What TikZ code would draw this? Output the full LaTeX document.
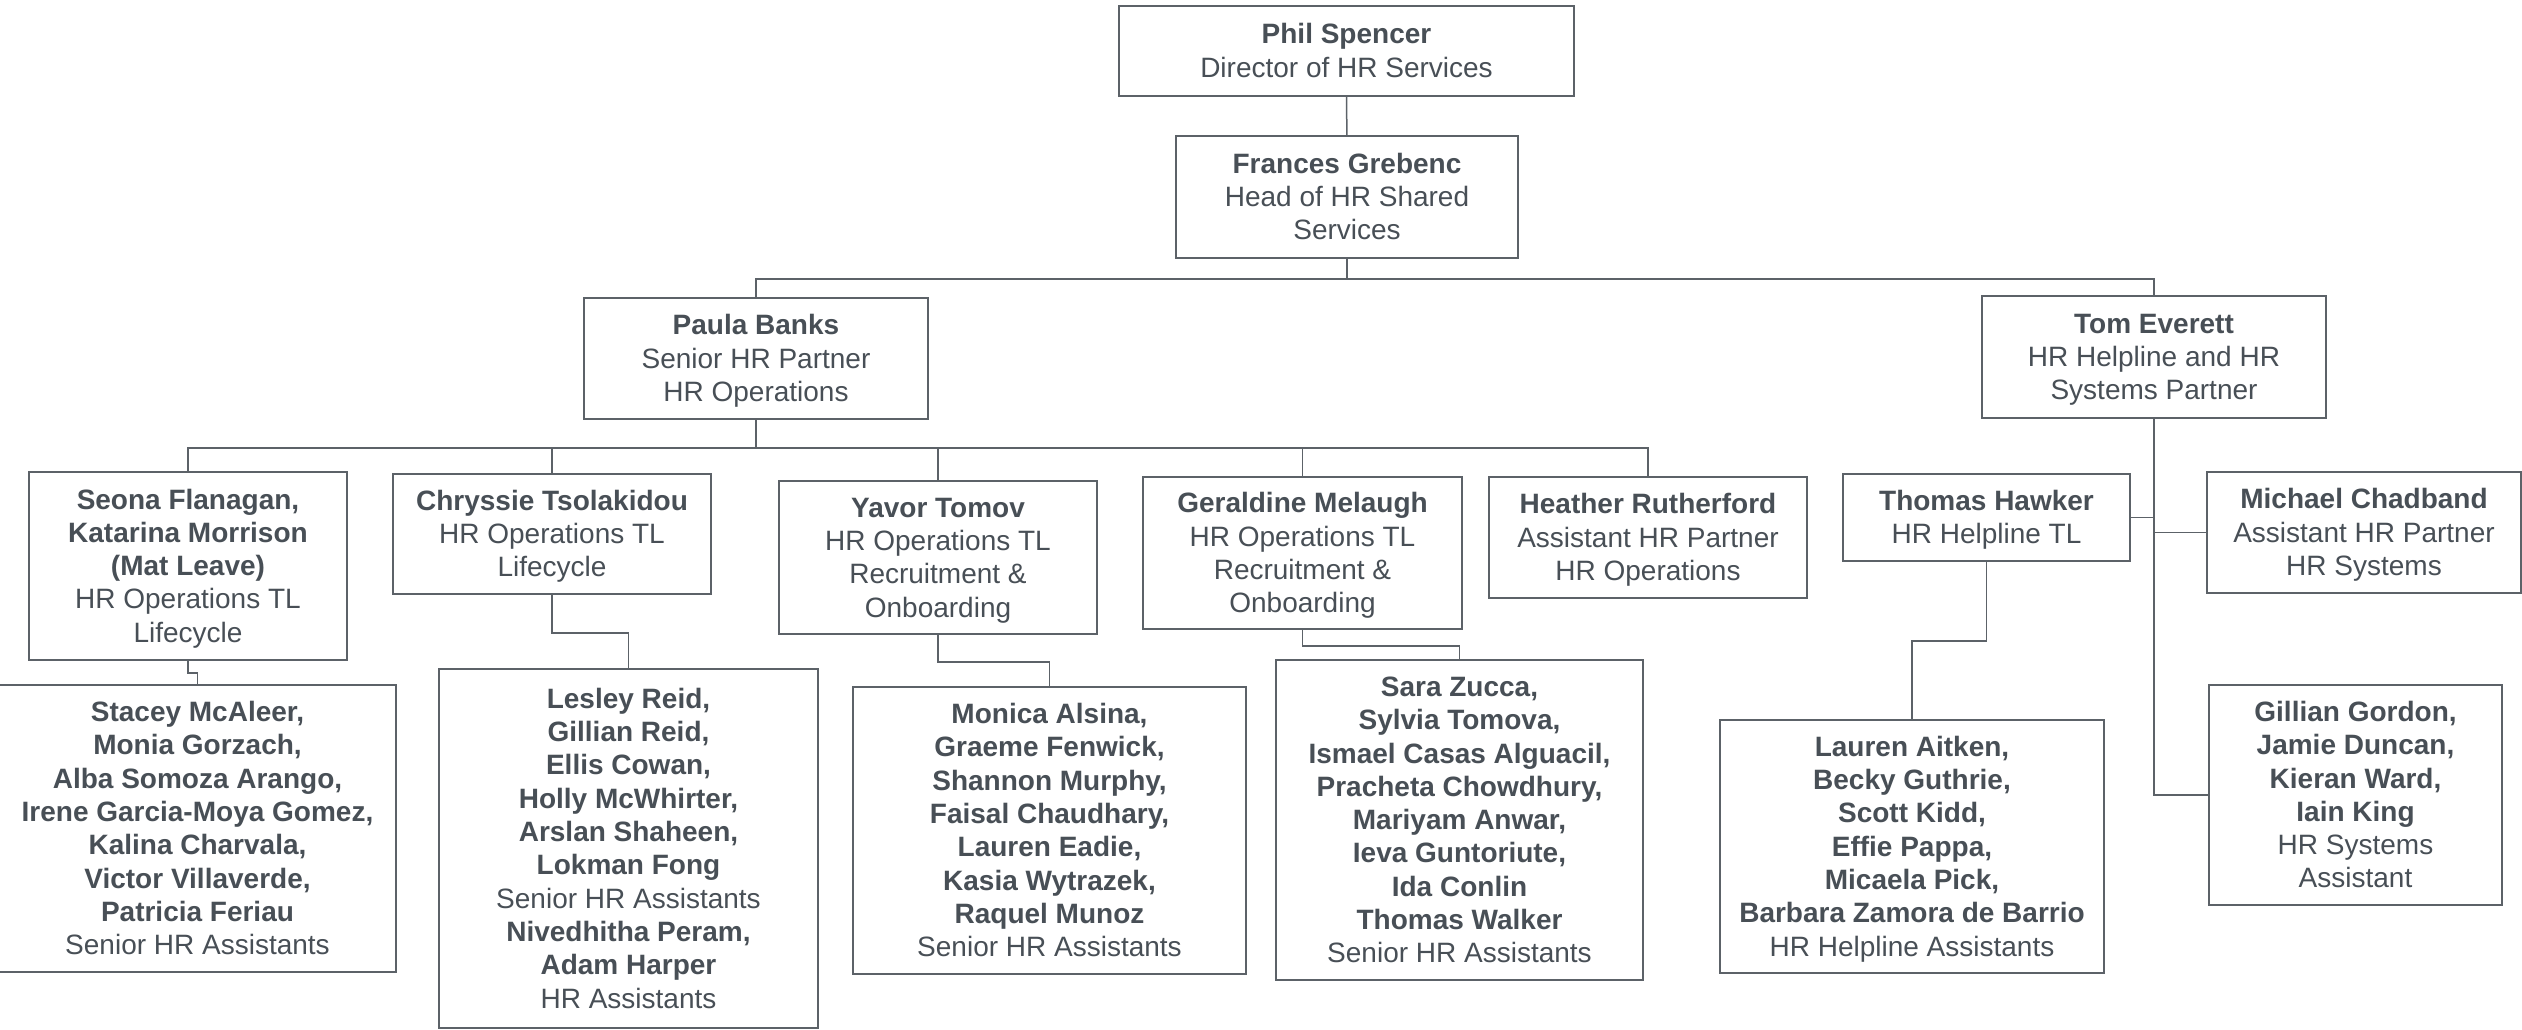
\documentclass[tikz,border=0pt]{standalone}
\usepackage{fontspec}
\setmainfont{Liberation Sans}
\definecolor{txtgrey}{RGB}{72,79,86}
\definecolor{linegrey}{RGB}{92,98,104}
\newcommand{\who}[1]{\textbf{#1}}
\newcommand{\card}[1]{\rule{0pt}{26.3pt}#1\rule[-7pt]{0pt}{7pt}}
\tikzset{
    staff/.style={draw=linegrey,line width=1.5pt,fill=white,align=center,inner sep=0pt,
        text=txtgrey,font={\fontsize{28}{33.3}\selectfont}},
    link/.style={draw=linegrey,line width=1.5pt}
}

\begin{document}
\begin{tikzpicture}[x=1pt,y=-1pt]
                \useasboundingbox (0,0) rectangle (2522,1030);
                \node[staff,minimum width=455pt,minimum height=90pt] (phil) at (1346.5,51) {\card{\who{Phil Spencer}\\Director of HR Services}};
                \node[staff,minimum width=342pt,minimum height=122pt] (frances) at (1347,197) {\card{\who{Frances Grebenc}\\Head of HR Shared\\Services}};
                \node[staff,minimum width=344pt,minimum height=121pt] (paula) at (756,358.5) {\card{\who{Paula Banks}\\Senior HR Partner\\HR Operations}};
                \node[staff,minimum width=344pt,minimum height=122pt] (tom) at (2154,357) {\card{\who{Tom Everett}\\HR Helpline and HR\\Systems Partner}};
                \node[staff,minimum width=318pt,minimum height=188pt] (seona) at (188,566) {\card{\who{Seona Flanagan,}\\\who{Katarina Morrison}\\\who{(Mat Leave)}\\HR Operations TL\\Lifecycle}};
                \node[staff,minimum width=318pt,minimum height=120pt] (chryssie) at (552,534) {\card{\who{Chryssie Tsolakidou}\\HR Operations TL\\Lifecycle}};
                \node[staff,minimum width=318pt,minimum height=153pt] (yavor) at (938,557.5) {\card{\who{Yavor Tomov}\\HR Operations TL\\Recruitment \&\\Onboarding}};
                \node[staff,minimum width=319pt,minimum height=152pt] (geraldine) at (1302.5,553) {\card{\who{Geraldine Melaugh}\\HR Operations TL\\Recruitment \&\\Onboarding}};
                \node[staff,minimum width=318pt,minimum height=121pt] (heather) at (1648,537.5) {\card{\who{Heather Rutherford}\\Assistant HR Partner\\HR Operations}};
                \node[staff,minimum width=287pt,minimum height=87pt] (thawker) at (1986.5,517.5) {\card{\who{Thomas Hawker}\\HR Helpline TL}};
                \node[staff,minimum width=314pt,minimum height=121pt] (michael) at (2364,532.5) {\card{\who{Michael Chadband}\\Assistant HR Partner\\HR Systems}};
                \node[staff,minimum width=397pt,minimum height=287pt] (stacey) at (197.5,828.5) {\card{\who{Stacey McAleer,}\\\who{Monia Gorzach,}\\\who{Alba Somoza Arango,}\\\who{Irene Garcia-Moya Gomez,}\\\who{Kalina Charvala,}\\\who{Victor Villaverde,}\\\who{Patricia Feriau}\\Senior HR Assistants}};
                \node[staff,minimum width=379pt,minimum height=359pt] (lesley) at (628.5,848.5) {\card{\who{Lesley Reid,}\\\who{Gillian Reid,}\\\who{Ellis Cowan,}\\\who{Holly McWhirter,}\\\who{Arslan Shaheen,}\\\who{Lokman Fong}\\Senior HR Assistants\\\who{Nivedhitha Peram,}\\\who{Adam Harper}\\HR Assistants}};
                \node[staff,minimum width=393pt,minimum height=287pt] (monica) at (1049.5,830.5) {\card{\who{Monica Alsina,}\\\who{Graeme Fenwick,}\\\who{Shannon Murphy,}\\\who{Faisal Chaudhary,}\\\who{Lauren Eadie,}\\\who{Kasia Wytrazek,}\\\who{Raquel Munoz}\\Senior HR Assistants}};
                \node[staff,minimum width=367pt,minimum height=320pt] (sara) at (1459.5,820) {\card{\who{Sara Zucca,}\\\who{Sylvia Tomova,}\\\who{Ismael Casas Alguacil,}\\\who{Pracheta Chowdhury,}\\\who{Mariyam Anwar,}\\\who{Ieva Guntoriute,}\\\who{Ida Conlin}\\\who{Thomas Walker}\\Senior HR Assistants}};
                \node[staff,minimum width=384pt,minimum height=253pt] (lauren) at (1912,846.5) {\card{\who{Lauren Aitken,}\\\who{Becky Guthrie,}\\\who{Scott Kidd,}\\\who{Effie Pappa,}\\\who{Micaela Pick,}\\\who{Barbara Zamora de Barrio}\\HR Helpline Assistants}};
                \node[staff,minimum width=293pt,minimum height=220pt] (gillian) at (2355.5,795) {\card{\who{Gillian Gordon,}\\\who{Jamie Duncan,}\\\who{Kieran Ward,}\\\who{Iain King}\\HR Systems\\Assistant}};
                \draw[link] (phil) -- (frances);
                \draw[link] (frances.south) -- ++(0,20) -| (paula.north);
                \draw[link] (frances.south) -- ++(0,20) -| (tom.north);
                \foreach \kid in {seona,chryssie,yavor,geraldine,heather}{
                    \draw[link] (paula.south) -- ++(0,28) -| (\kid.north);
                }
                \draw[link] (seona.south) -- ++(0,12) -| (stacey.north);
                \draw[link] (chryssie.south) -- ++(0,38) -| (lesley.north);
                \draw[link] (yavor.south) -- ++(0,27) -| (monica.north);
                \draw[link] (geraldine.south) -- ++(0,16) -| (sara.north);
                \draw[link] (thawker.south) -- ++(0,79) -| (lauren.north);
                \draw[link] (tom.south) |- (gillian.west);
                \draw[link] (thawker.east) -- (thawker.east -| tom.south);
                \draw[link] (michael.west) -- (michael.west -| tom.south);
            \end{tikzpicture}
\end{document}
